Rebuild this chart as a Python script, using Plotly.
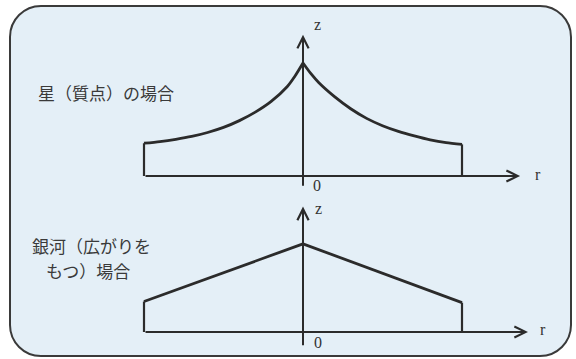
import plotly.graph_objs as go

# === Data (r in units of the edge radius, z in units of the star peak height) ===
r_star_left = [-1.0, -0.9, -0.8, -0.7, -0.6, -0.5, -0.4, -0.3, -0.2, -0.1, -0.05, 0.0]
z_star_left = [0.29, 0.305, 0.325, 0.35, 0.385, 0.43, 0.49, 0.565, 0.66, 0.79, 0.885, 1.00]
r_star_right = [0.0, 0.05, 0.1, 0.2, 0.3, 0.4, 0.5, 0.6, 0.7, 0.8, 0.9, 1.0]
z_star_right = [1.00, 0.905, 0.825, 0.70, 0.595, 0.51, 0.445, 0.395, 0.355, 0.32, 0.295, 0.28]

r_galaxy = [-1.0, 0.0, 1.0]
z_galaxy = [0.27, 0.78, 0.26]

label_star = "星（質点）の場合"
label_galaxy = ["銀河（広がりを", "もつ）場合"]

# === Config ===
W, H = 576, 359
px_r = 159.0          # pixels per r unit
px_z = 113.0          # pixels per z unit
r0_px = 303           # pixel column of r = 0
base_top_px = 176     # pixel row of z = 0, top panel
base_bot_px = 332     # pixel row of z = 0, bottom panel

ink = "#2b2b2b"
fill = "#e4eff7"
jp_font = dict(family="Noto Sans CJK JP", size=17, color="#3a3a3a")
serif = dict(family="Liberation Serif", size=16, color="#333333")

fig = go.Figure()

def outline(rl, zl, rr, zr, ya, shape):
    # left branch, right branch, edge verticals
    for rs, zs in ((rl, zl), (rr, zr)):
        fig.add_trace(go.Scatter(x=rs, y=zs, mode="lines", yaxis=ya,
                                 line=dict(color=ink, width=2.8, shape=shape, smoothing=0.7),
                                 showlegend=False, hoverinfo="skip"))
    fig.add_trace(go.Scatter(x=[rl[0], rl[0], None, rr[-1], rr[-1]],
                             y=[zl[0], 0, None, zr[-1], 0], mode="lines", yaxis=ya,
                             line=dict(color=ink, width=2.2),
                             showlegend=False, hoverinfo="skip"))

outline(r_star_left, z_star_left, r_star_right, z_star_right, "y", "spline")
outline(r_galaxy[:2], z_galaxy[:2], r_galaxy[1:], z_galaxy[1:], "y2", "linear")

# === Axes arrows ===
def arrow(x, y, ax, ay, yref):
    fig.add_annotation(x=x, y=y, ax=ax, ay=ay, xref="x", yref=yref,
                       axref="x", ayref=yref, showarrow=True, text="",
                       arrowhead=5, arrowsize=1.1, arrowwidth=2, arrowcolor=ink,
                       standoff=0, startstandoff=0)

arrow(1.365, 0, -1.0, 0, "y")
arrow(0, 1.25, 0, -0.10, "y")
arrow(1.415, 0, -1.0, 0, "y2")
arrow(0, 1.11, 0, -0.13, "y2")

def label(x, y, text, yref, font):
    fig.add_annotation(x=x, y=y, xref="x", yref=yref, text=text,
                       showarrow=False, font=font)

label(0.094, 1.34, "z", "y", serif)
label(0.085, -0.08, "0", "y", serif)
label(1.475, 0.01, "r", "y", serif)
label(0.10, 1.09, "z", "y2", serif)
label(0.095, -0.09, "0", "y2", serif)
label(1.51, 0.02, "r", "y2", serif)

def jp_label(xp, yp, text):
    fig.add_annotation(x=xp / W, y=1 - yp / H, xref="paper", yref="paper",
                       xanchor="center", yanchor="middle",
                       text=text, showarrow=False, font=jp_font)

jp_label(106, 92, label_star)
jp_label(91, 245, label_galaxy[0])
jp_label(88, 270, label_galaxy[1])

# === Rounded frame ===
x0, x1, y0, y1, rad = 10, 571, 6, 356, 31
k = rad * 0.4477
px = lambda v: v / W
py = lambda v: 1 - v / H
path = (
    f"M{px(x0 + rad)},{py(y0)} L{px(x1 - rad)},{py(y0)} "
    f"C{px(x1 - k)},{py(y0)} {px(x1)},{py(y0 + k)} {px(x1)},{py(y0 + rad)} "
    f"L{px(x1)},{py(y1 - rad)} "
    f"C{px(x1)},{py(y1 - k)} {px(x1 - k)},{py(y1)} {px(x1 - rad)},{py(y1)} "
    f"L{px(x0 + rad)},{py(y1)} "
    f"C{px(x0 + k)},{py(y1)} {px(x0)},{py(y1 - k)} {px(x0)},{py(y1 - rad)} "
    f"L{px(x0)},{py(y0 + rad)} "
    f"C{px(x0)},{py(y0 + k)} {px(x0 + k)},{py(y0)} {px(x0 + rad)},{py(y0)} Z"
)
fig.add_shape(type="path", path=path, xref="paper", yref="paper",
              fillcolor=fill, line=dict(color="#3a3a3a", width=2), layer="below")

# === Layout ===
fig.update_layout(
    width=W, height=H, autosize=False,
    margin=dict(l=0, r=0, t=0, b=0),
    paper_bgcolor="white", plot_bgcolor="rgba(0,0,0,0)",
    xaxis=dict(range=[-r0_px / px_r, (W - r0_px) / px_r], visible=False, fixedrange=True),
    yaxis=dict(range=[-(H - base_top_px) / px_z, base_top_px / px_z], visible=False, fixedrange=True),
    yaxis2=dict(range=[-(H - base_bot_px) / px_z, base_bot_px / px_z], visible=False,
                overlaying="y", fixedrange=True),
)

fig.write_html("out.html", config={"displayModeBar": False},
               post_script="document.body.style.margin='0';")
